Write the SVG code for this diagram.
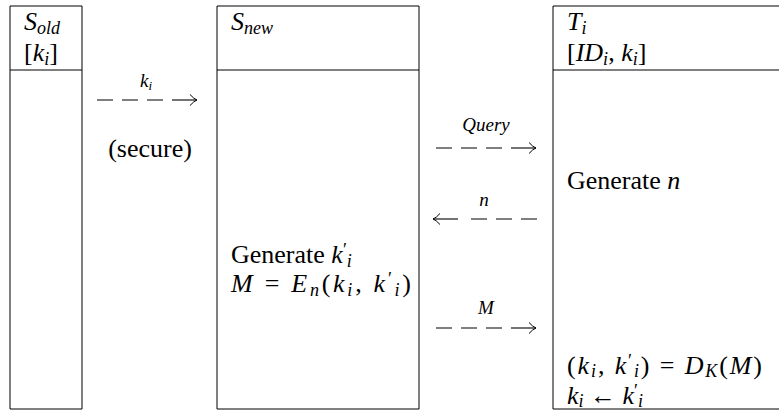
<svg xmlns="http://www.w3.org/2000/svg" width="779" height="410" viewBox="0 0 779 410">
<style>
text{font-family:"Liberation Serif","Times New Roman","DejaVu Serif","Noto Serif",serif;font-size:26px;fill:#000}
.m{font-style:italic}
.r{font-style:normal}
.sub{font-size:18px}
.lbl{font-size:19px;font-style:italic}
.lsub{font-size:13px}
.box{fill:none;stroke:#000;stroke-width:1}
.dash{fill:none;stroke:#000;stroke-width:1.1;stroke-dasharray:16 9}
.solid{fill:none;stroke:#000;stroke-width:1.1}
</style>
<defs>
<marker id="head" viewBox="-10 -7 12 14" markerWidth="12" markerHeight="14" refX="0" refY="0" orient="auto" markerUnits="userSpaceOnUse">
<path d="M-7,-5.5 Q-3,-1 0,0 Q-3,1 -7,5.5" fill="none" stroke="#000" stroke-width="1"/>
</marker>
</defs>

<g id="node-sold">
<path class="box" d="M10 409 V6 H82 V409 Z M10 70 H82"/>
<text x="24" y="30" class="m">S<tspan class="sub" dy="4">old</tspan></text>
<text x="24" y="61"><tspan class="r">[</tspan><tspan class="m">k</tspan><tspan class="sub m" dy="4">i</tspan><tspan class="r" dy="-4">]</tspan></text>
</g>

<g id="node-snew">
<path class="box" d="M217 409 V6 H419 V409 Z M217 70 H419"/>
<text x="231" y="30" class="m">S<tspan class="sub" dy="4">new</tspan></text>
<text x="231" y="263">Generate <tspan class="m">k</tspan><tspan class="sub r" dy="-7">′</tspan><tspan class="sub m" dy="11">i</tspan></text>
<text x="231" y="292" textLength="180" lengthAdjust="spacing"><tspan class="m">M</tspan> = <tspan class="m">E</tspan><tspan class="sub m" dy="4">n</tspan><tspan dy="-4">(</tspan><tspan class="m">k</tspan><tspan class="sub m" dy="4">i</tspan><tspan dy="-4">, </tspan><tspan class="m">k</tspan><tspan class="sub r" dy="-7">′</tspan><tspan class="sub m" dy="11">i</tspan><tspan dy="-4">)</tspan></text>
</g>

<g id="node-ti">
<path class="box" d="M779 6 H553 V409 H779 M553 70 H779"/>
<text x="567" y="30" class="m">T<tspan class="sub" dy="4">i</tspan></text>
<text x="567" y="61"><tspan class="r">[</tspan><tspan class="m">ID</tspan><tspan class="sub m" dy="4">i</tspan><tspan dy="-4">, </tspan><tspan class="m">k</tspan><tspan class="sub m" dy="4">i</tspan><tspan class="r" dy="-4">]</tspan></text>
<text x="567" y="189">Generate <tspan class="m">n</tspan></text>
<text x="567" y="374" textLength="195" lengthAdjust="spacing">(<tspan class="m">k</tspan><tspan class="sub m" dy="3">i</tspan><tspan dy="-3">, </tspan><tspan class="m">k</tspan><tspan class="sub r" dy="-7">′</tspan><tspan class="sub m" dy="10">i</tspan><tspan dy="-3">) = </tspan><tspan class="m">D</tspan><tspan class="sub m" dy="3">K</tspan><tspan dy="-3">(</tspan><tspan class="m">M</tspan>)</text>
<text x="567" y="404"><tspan class="m">k</tspan><tspan class="sub m" dy="3">i</tspan><tspan dy="-3"> ← </tspan><tspan class="m">k</tspan><tspan class="sub r" dy="-7">′</tspan><tspan class="sub m" dy="10">i</tspan></text>
</g>

<g id="connectors">
<path class="dash" d="M97 100 H172"/>
<path class="solid" d="M172 100 H197" marker-end="url(#head)"/>
<text x="146" y="87" class="lbl" text-anchor="middle">k<tspan class="lsub" dy="3">i</tspan></text>
<text x="150" y="157" text-anchor="middle">(secure)</text>

<path class="dash" d="M436 148 H511"/>
<path class="solid" d="M511 148 H536" marker-end="url(#head)"/>
<text x="486" y="131" class="lbl" text-anchor="middle">Query</text>

<path class="dash" d="M537 219 H462"/>
<path class="solid" d="M458 219 H433" marker-end="url(#head)"/>
<text x="484" y="206" class="lbl" text-anchor="middle">n</text>

<path class="dash" d="M436 328 H511"/>
<path class="solid" d="M511 328 H536" marker-end="url(#head)"/>
<text x="486" y="314" class="lbl" text-anchor="middle">M</text>
</g>
</svg>
